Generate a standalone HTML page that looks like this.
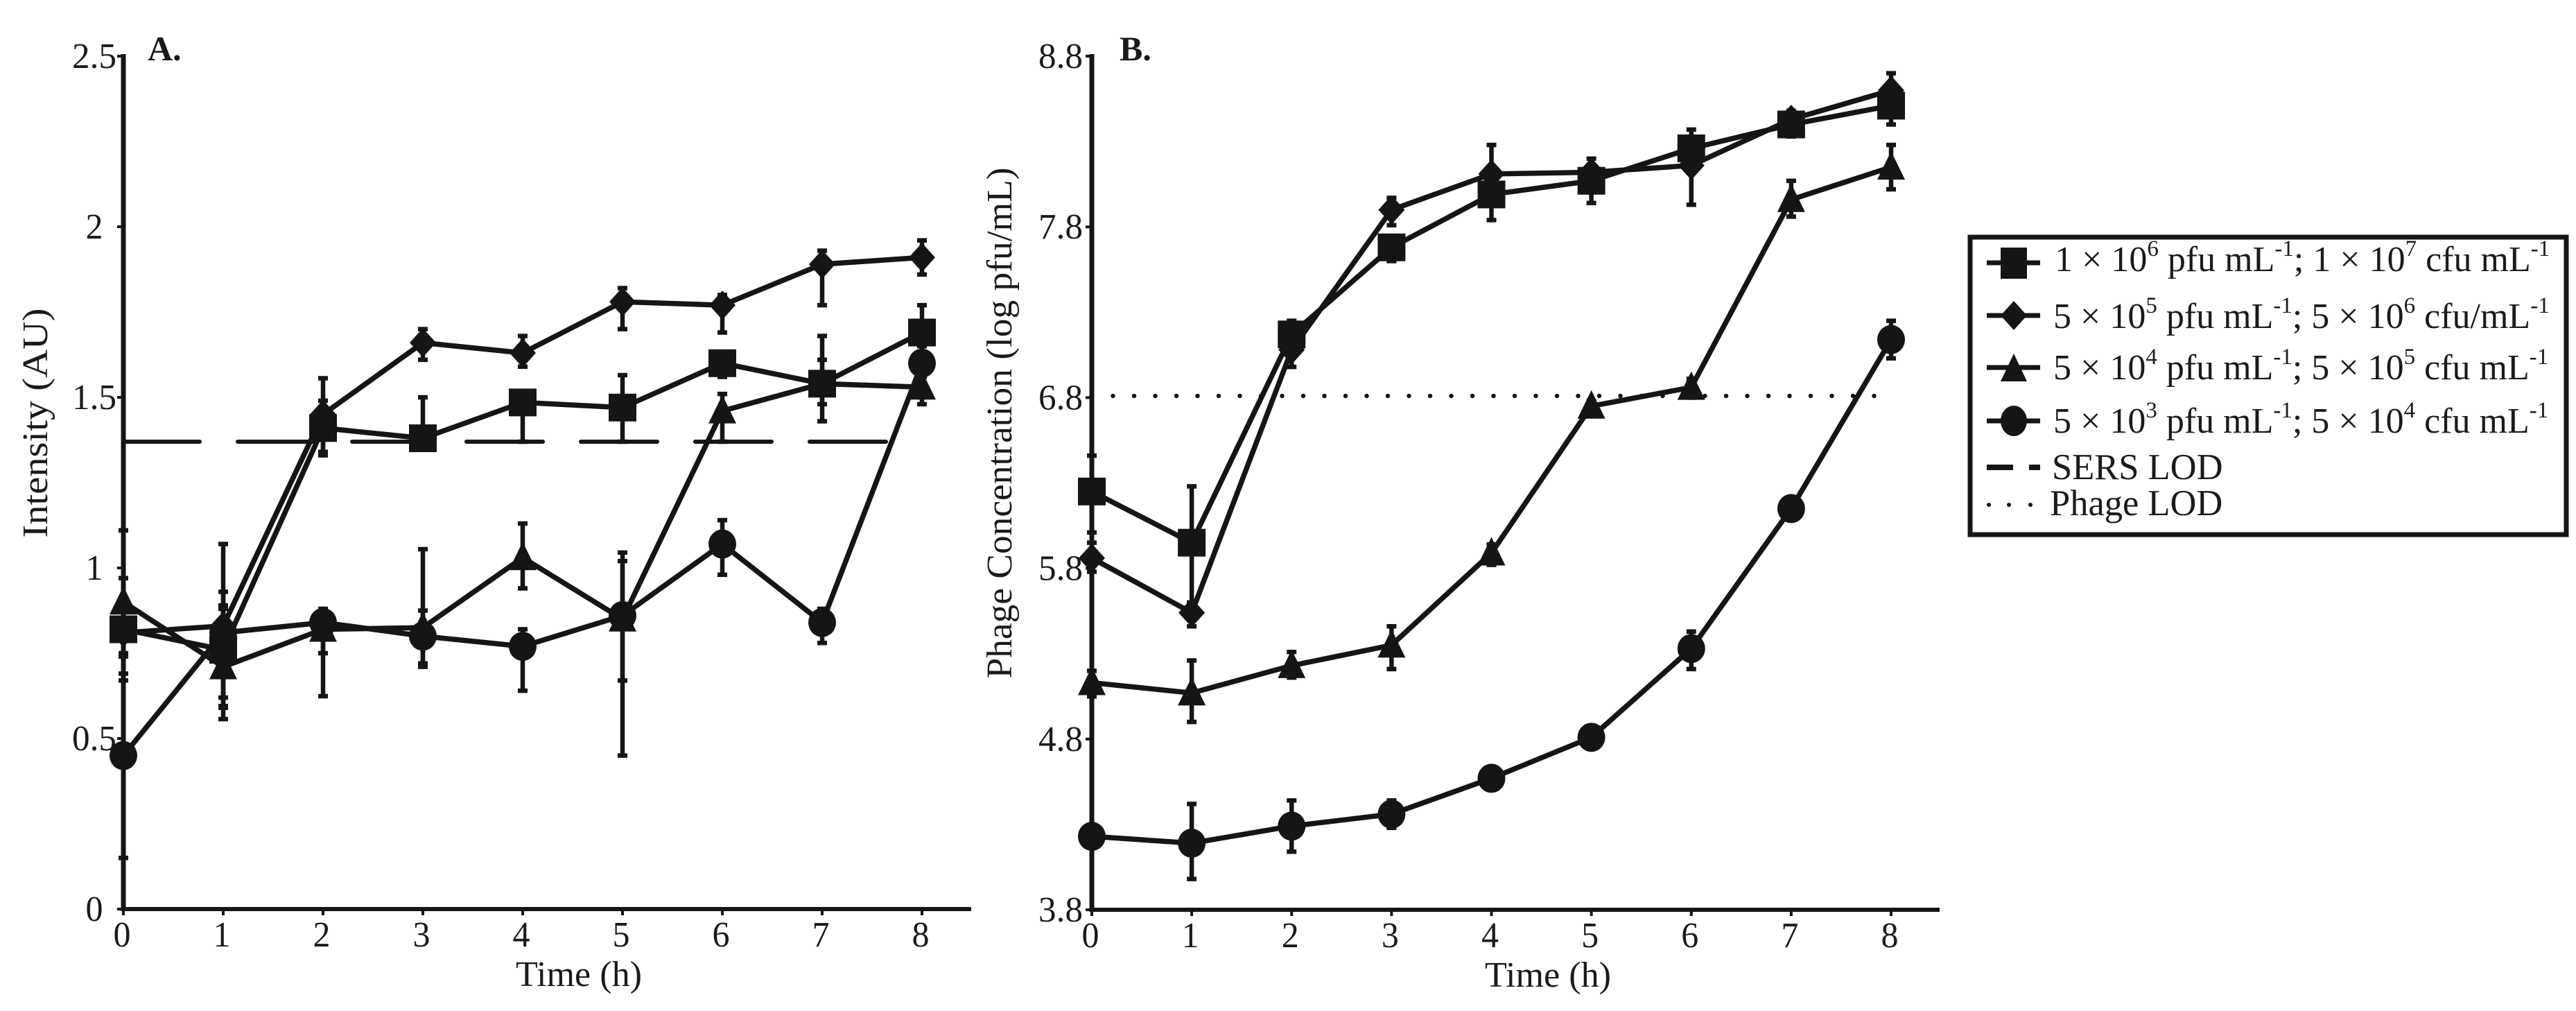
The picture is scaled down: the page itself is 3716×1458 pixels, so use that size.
<!DOCTYPE html>
<html lang="en">
<head>
<meta charset="utf-8">
<title>Phage and SERS intensity time course</title>
<style>
html,body{margin:0;padding:0;background:#fff;}
svg{display:block;}
text{font-family:"Liberation Serif",serif;fill:#1a1a1a;}
</style>
</head>
<body>
<svg id="fig" xmlns="http://www.w3.org/2000/svg" width="3716" height="1458" viewBox="0 0 3716 1458">
  <rect width="3716" height="1458" fill="#fff"/>

  <g>
    <rect x="2842" y="342" width="860" height="429" fill="#fff" stroke="#151515" stroke-width="7"/>
    <g>
      <line x1="2866" x2="2943" y1="379" y2="379" stroke="#151515" stroke-width="7"/>
      <rect x="2886" y="357" width="38" height="45" fill="#151515"/>
      <text x="2964" y="391" font-size="52">1 × 10<tspan font-size="33" dy="-22">6</tspan><tspan dy="22"> pfu mL</tspan><tspan font-size="33" dy="-22">-1</tspan><tspan dy="22">; 1 × 10</tspan><tspan font-size="33" dy="-22">7</tspan><tspan dy="22"> cfu mL</tspan><tspan font-size="33" dy="-22">-1</tspan></text>
    </g>
    <g>
      <line x1="2866" x2="2943" y1="455" y2="455" stroke="#151515" stroke-width="7"/>
      <polygon points="2905,434 2924,455 2905,476 2886,455" fill="#151515"/>
      <text x="2962" y="473" font-size="52">5 × 10<tspan font-size="33" dy="-22">5</tspan><tspan dy="22"> pfu mL</tspan><tspan font-size="33" dy="-22">-1</tspan><tspan dy="22">; 5 × 10</tspan><tspan font-size="33" dy="-22">6</tspan><tspan dy="22"> cfu/mL</tspan><tspan font-size="33" dy="-22">-1</tspan></text>
    </g>
    <g>
      <line x1="2866" x2="2943" y1="530" y2="530" stroke="#151515" stroke-width="7"/>
      <polygon points="2905,510 2924,550 2886,550" fill="#151515"/>
      <text x="2962" y="547" font-size="52">5 × 10<tspan font-size="33" dy="-22">4</tspan><tspan dy="22"> pfu mL</tspan><tspan font-size="33" dy="-22">-1</tspan><tspan dy="22">; 5 × 10</tspan><tspan font-size="33" dy="-22">5</tspan><tspan dy="22"> cfu mL</tspan><tspan font-size="33" dy="-22">-1</tspan></text>
    </g>
    <g>
      <line x1="2866" x2="2943" y1="607" y2="607" stroke="#151515" stroke-width="7"/>
      <ellipse cx="2905" cy="607" rx="19" ry="22" fill="#151515"/>
      <text x="2962" y="624" font-size="52">5 × 10<tspan font-size="33" dy="-22">3</tspan><tspan dy="22"> pfu mL</tspan><tspan font-size="33" dy="-22">-1</tspan><tspan dy="22">; 5 × 10</tspan><tspan font-size="33" dy="-22">4</tspan><tspan dy="22"> cfu mL</tspan><tspan font-size="33" dy="-22">-1</tspan></text>
    </g>
    <g>
      <line x1="2866" x2="2904" y1="674" y2="674" stroke="#151515" stroke-width="8"/>
      <line x1="2927" x2="2943" y1="674" y2="674" stroke="#151515" stroke-width="8"/>
      <text x="2960" y="691" font-size="52.5">SERS LOD</text>
    </g>
    <g>
      <circle cx="2869" cy="728" r="3" fill="#151515"/>
      <circle cx="2898" cy="728" r="3" fill="#151515"/>
      <circle cx="2929" cy="728" r="3" fill="#151515"/>
      <text x="2957" y="743" font-size="52.5">Phage LOD</text>
    </g>
  </g>
</svg>
<script>
// ---- shared categories and tick labels ----
const hours = [0, 1, 2, 3, 4, 5, 6, 7, 8];
const ticksA = ["0", "0.5", "1", "1.5", "2", "2.5"];
const ticksB = ["3.8", "4.8", "5.8", "6.8", "7.8", "8.8"];

// ---- panel A: intensity (AU) ----
const aSquare = [0.82, 0.76, 1.41, 1.38, 1.485, 1.47, 1.60, 1.54, 1.69];
const aSquareHi = [0.97, 0.93, 1.49, 1.50, 1.51, 1.565, 1.63, 1.68, 1.77];
const aSquareLo = [0.67, 0.59, 1.33, 1.37, 1.37, 1.37, 1.56, 1.43, 1.60];
const aDiamond = [0.81, 0.83, 1.45, 1.66, 1.63, 1.78, 1.77, 1.89, 1.91];
const aDiamondHi = [0.88, 1.07, 1.556, 1.70, 1.68, 1.82, 1.80, 1.93, 1.96];
const aDiamondLo = [0.74, 0.595, 1.34, 1.61, 1.59, 1.70, 1.69, 1.77, 1.86];
const aTriangle = [0.90, 0.71, 0.82, 0.825, 1.03, 0.85, 1.46, 1.54, 1.53];
const aTriangleHi = [1.11, 0.88, 0.87, 1.055, 1.13, 1.045, 1.51, 1.61, 1.56];
const aTriangleLo = [0.69, 0.557, 0.624, 0.72, 0.94, 0.45, 1.37, 1.48, 1.48];
const aCircle = [0.45, 0.81, 0.84, 0.80, 0.77, 0.86, 1.07, 0.84, 1.60];
const aCircleHi = [0.75, 0.89, 0.88, 0.875, 0.82, 1.02, 1.14, 0.88, 1.65];
const aCircleLo = [0.15, 0.62, 0.75, 0.71, 0.64, 0.67, 0.98, 0.78, 1.50];
const sersLod = 1.37;

// ---- panel B: phage concentration (log pfu/mL) ----
const bSquare = [6.25, 5.95, 7.17, 7.68, 7.99, 8.07, 8.26, 8.40, 8.51];
const bSquareHi = [6.46, 6.28, 7.25, 7.74, 8.10, 8.14, 8.37, 8.47, 8.60];
const bSquareLo = [6.01, 5.60, 7.08, 7.60, 7.84, 7.94, 8.20, 8.33, 8.40];
const bDiamond = [5.86, 5.54, 7.08, 7.90, 8.11, 8.12, 8.16, 8.43, 8.60];
const bDiamondHi = [5.95, 5.60, 7.15, 7.97, 8.28, 8.20, 8.25, 8.48, 8.70];
const bDiamondLo = [5.78, 5.46, 6.98, 7.81, 8.00, 8.03, 7.93, 8.37, 8.50];
const bTriangle = [5.13, 5.07, 5.23, 5.35, 5.89, 6.75, 6.86, 7.96, 8.15];
const bTriangleHi = [5.20, 5.26, 5.31, 5.46, 5.94, 6.78, 6.91, 8.07, 8.28];
const bTriangleLo = [5.05, 4.90, 5.16, 5.21, 5.82, 6.70, 6.80, 7.86, 8.02];
const bCircle = [4.23, 4.19, 4.29, 4.36, 4.57, 4.81, 5.33, 6.15, 7.14];
const bCircleHi = [4.23, 4.42, 4.44, 4.44, 4.57, 4.81, 5.43, 6.15, 7.25];
const bCircleLo = [4.23, 3.98, 4.14, 4.28, 4.57, 4.81, 5.21, 6.15, 7.03];
const phageLod = 6.81;

const NS = "http://www.w3.org/2000/svg";
const INK = "#151515";
const fig = document.getElementById("fig");

function make(parent, tag, attrs) {
  const el = document.createElementNS(NS, tag);
  for (const k in attrs) el.setAttribute(k, attrs[k]);
  parent.appendChild(el);
  return el;
}

function drawPanel(p) {
  const xs = v => p.x0 + (v - hours[0]) / (hours[hours.length - 1] - hours[0]) * (p.x8 - p.x0);
  const ys = v => p.yBottom + (v - p.yMin) / (p.yMax - p.yMin) * (p.yTop - p.yBottom);

  const g = make(fig, "g", {});
  
  

  // axes
  const yAxis = make(g, "line", {x1: p.x0, x2: p.x0, y1: p.yTop - 3, y2: p.yBottom + 3, stroke: INK, "stroke-width": 7});
  
  
  const xAxis = make(g, "line", {x1: p.x0 - 3, x2: p.xEnd, y1: p.yBottom, y2: p.yBottom, stroke: INK, "stroke-width": 6});
  
  

  // y ticks
  p.yLabels.forEach(label => {
    const v = parseFloat(label);
    const t = make(g, "line", {x1: p.x0 - 9, x2: p.x0, y1: ys(v), y2: ys(v), stroke: INK, "stroke-width": 4});
    
    
    const tx = make(g, "text", {x: p.yLabelX, y: ys(v) + 17, "font-size": 52, "text-anchor": "middle", textLength: label.length === 1 ? 25 : 64, lengthAdjust: "spacingAndGlyphs"});
    tx.textContent = label;
    
    
  });

  // x ticks
  hours.forEach(h => {
    const t = make(g, "line", {x1: xs(h), x2: xs(h), y1: p.yBottom, y2: p.yBottom + 9, stroke: INK, "stroke-width": 4});
    
    
    const tx = make(g, "text", {x: xs(h) - 2, y: p.yBottom + 54, "font-size": 52, "text-anchor": "middle", textLength: 25, lengthAdjust: "spacingAndGlyphs"});
    tx.textContent = String(h);
    
    
  });

  // titles
  const xt = make(g, "text", {x: p.xTitleX, y: p.yBottom + 111, "font-size": 52, "text-anchor": "middle", textLength: 182, lengthAdjust: "spacingAndGlyphs"});
  xt.textContent = "Time (h)";
  
  
  const yt = make(g, "text", {x: 0, y: 0, "font-size": 52, "text-anchor": "middle", textLength: p.yTitleLen, lengthAdjust: "spacingAndGlyphs", transform: "translate(" + p.yTitleX + "," + p.yTitleY + ") rotate(-90)"});
  yt.textContent = p.yTitle;
  
  
  const pl = make(g, "text", {x: p.letterX, y: 87, "font-size": 50, "font-weight": "bold"});
  pl.textContent = p.letter;
  
  

  // limit of detection line
  const lod = make(g, "line", {x1: xs(hours[0]), x2: xs(hours[hours.length - 1]), y1: ys(p.lod), y2: ys(p.lod), stroke: INK, "stroke-width": p.lodWidth, "stroke-dasharray": p.lodDash, "stroke-linecap": "round"});
  
  

  // series
  p.series.forEach(s => {
    const sg = make(g, "g", {});
    
    

    hours.forEach((h, i) => {
      const x = xs(h);
      if (s.hi[i] === s.values[i] && s.lo[i] === s.values[i]) return;
      const bar = make(sg, "path", {
        d: "M" + x + " " + ys(s.hi[i]) + "V" + ys(s.lo[i]) +
           "M" + (x - 7) + " " + ys(s.hi[i]) + "H" + (x + 7) +
           "M" + (x - 7) + " " + ys(s.lo[i]) + "H" + (x + 7),
        fill: "none", stroke: INK, "stroke-width": 6.5
      });
      
      
    });

    const line = make(sg, "polyline", {
      points: hours.map((h, i) => xs(h) + "," + ys(s.values[i])).join(" "),
      fill: "none", stroke: INK, "stroke-width": 7.5
    });
    
    

    hours.forEach((h, i) => {
      const x = xs(h), y = ys(s.values[i]);
      let m;
      if (s.shape === "square") {
        m = make(sg, "rect", {x: x - 20, y: y - 20, width: 40, height: 40, fill: INK});
      } else if (s.shape === "diamond") {
        m = make(sg, "polygon", {points: x + "," + (y - 21) + " " + (x + 19) + "," + y + " " + x + "," + (y + 21) + " " + (x - 19) + "," + y, fill: INK});
      } else if (s.shape === "triangle") {
        m = make(sg, "polygon", {points: x + "," + (y - 23) + " " + (x + 20) + "," + (y + 18) + " " + (x - 20) + "," + (y + 18), fill: INK});
      } else {
        m = make(sg, "ellipse", {cx: x, cy: y, rx: 20, ry: 21, fill: INK});
      }
      
      
    });
  });
}

drawPanel({
  name: "panel-a", letter: "A.", letterX: 213,
  x0: 178, x8: 1330, xEnd: 1401, yTop: 81, yBottom: 1311, yMin: 0, yMax: 2.5,
  yLabels: ticksA, yLabelX: 136, xTitleX: 835,
  yTitle: "Intensity (AU)", yTitleX: 68, yTitleY: 610, yTitleLen: 331,
  lod: sersLod, lodWidth: 6, lodDash: "110 55",
  series: [
    {shape: "triangle", values: aTriangle, hi: aTriangleHi, lo: aTriangleLo},
    {shape: "circle", values: aCircle, hi: aCircleHi, lo: aCircleLo},
    {shape: "diamond", values: aDiamond, hi: aDiamondHi, lo: aDiamondLo},
    {shape: "square", values: aSquare, hi: aSquareHi, lo: aSquareLo}
  ]
});

drawPanel({
  name: "panel-b", letter: "B.", letterX: 1615,
  x0: 1575, x8: 2728, xEnd: 2798, yTop: 81, yBottom: 1312, yMin: 3.8, yMax: 8.8,
  yLabels: ticksB, yLabelX: 1530, xTitleX: 2233,
  yTitle: "Phage Concentration (log pfu/mL)", yTitleX: 1459, yTitleY: 610, yTitleLen: 737,
  lod: phageLod, lodWidth: 6.5, lodDash: "0 30.5",
  series: [
    {shape: "triangle", values: bTriangle, hi: bTriangleHi, lo: bTriangleLo},
    {shape: "circle", values: bCircle, hi: bCircleHi, lo: bCircleLo},
    {shape: "diamond", values: bDiamond, hi: bDiamondHi, lo: bDiamondLo},
    {shape: "square", values: bSquare, hi: bSquareHi, lo: bSquareLo}
  ]
});
</script>
</body>
</html>
